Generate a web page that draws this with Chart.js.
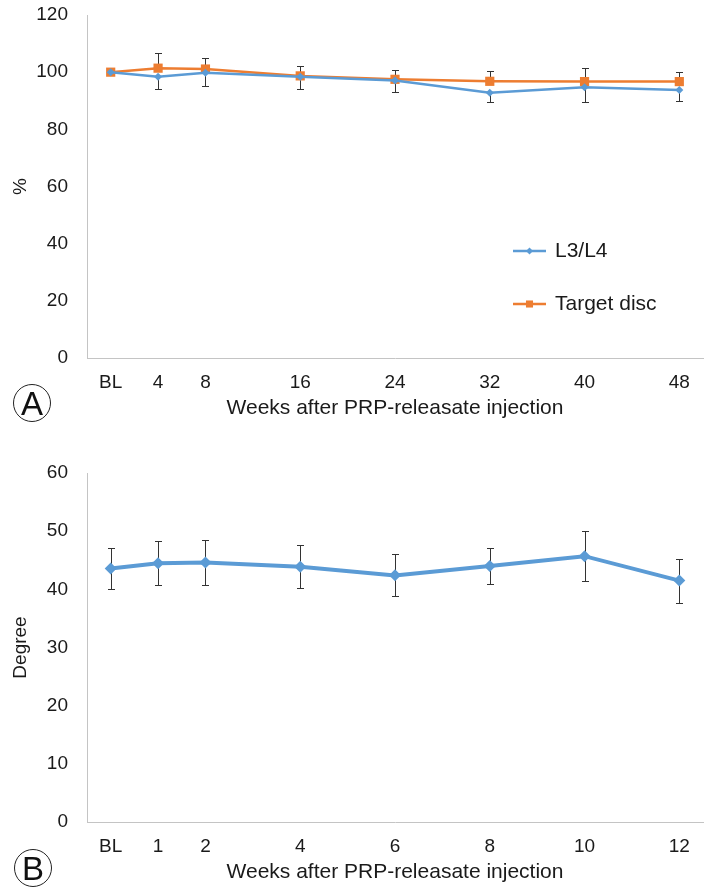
<!DOCTYPE html>
<html>
<head>
<meta charset="utf-8">
<script src="https://cdn.jsdelivr.net/npm/chart.js@4.4.1/dist/chart.umd.min.js"></script>
<style>
body { margin: 0; background: #fff; }
#wrap { position: relative; width: 712px; height: 895px; font-family: "Liberation Sans", Arial, sans-serif; }
canvas { position: absolute; left: 0; }
#chartA { top: 0; }
#chartB { top: 440px; }
.tag { position: absolute; width: 36px; height: 36px; border: 1px solid #222; border-radius: 50%;
       font-size: 33px; line-height: 37px; text-align: center; color: #111; }
</style>
</head>
<body>
<div id="wrap">
  <canvas id="chartA" width="712" height="440"></canvas>
  <canvas id="chartB" width="712" height="455"></canvas>
  <div class="tag" style="left:13px; top:384px;">A</div>
  <div class="tag" style="left:14px; top:849px;">B</div>
</div>
<script>
// panel A: disc height, % of baseline
const weeksA = [0, 4, 8, 16, 24, 32, 40, 48];
const l3l4 = [100, 98.4, 99.8, 98.4, 97.1, 92.8, 94.7, 93.8];
const l3l4Minus = [0, 4.4, 4.6, 4.2, 3.9, 3.2, 5.2, 4.0];
const targetDisc = [100, 101.4, 101.1, 98.7, 97.5, 96.8, 96.7, 96.7];
const targetPlus = [0, 5.2, 4.0, 3.5, 3.4, 3.7, 4.8, 3.5];

// panel B: angle in degrees
const weeksB = [0, 1, 2, 4, 6, 8, 10, 12];
const degree = [43.6, 44.5, 44.6, 43.9, 42.4, 44.0, 45.7, 41.5];
const degreeErr = [3.5, 3.8, 3.8, 3.75, 3.6, 3.1, 4.3, 3.8];

const xTitle = "Weeks after PRP-releasate injection";

Chart.defaults.font.family = '"Liberation Sans", Arial, sans-serif';
Chart.defaults.color = "#1a1a1a";

function toPoints(xs, ys) {
    return xs.map((x, i) => ({ x: x, y: ys[i] }));
}

const errorBars = {
    id: "errorBars",
    beforeDatasetsDraw(chart) {
        const ctx = chart.ctx;
        const yScale = chart.scales.y;
        ctx.save();
        ctx.strokeStyle = "#333333";
        ctx.lineWidth = 1;
        chart.data.datasets.forEach((ds, di) => {
            const meta = chart.getDatasetMeta(di);
            meta.data.forEach((pt, i) => {
                const up = ds.errPlus ? ds.errPlus[i] : 0;
                const down = ds.errMinus ? ds.errMinus[i] : 0;
                if (!up && !down) return;
                const v = ds.data[i].y;
                const x = Math.round(pt.x) + 0.5;
                const top = Math.round(yScale.getPixelForValue(v + up)) + 0.5;
                const bot = Math.round(yScale.getPixelForValue(v - down)) + 0.5;
                ctx.beginPath();
                ctx.moveTo(x, top);
                ctx.lineTo(x, bot);
                if (up) { ctx.moveTo(x - 3.5, top); ctx.lineTo(x + 3.5, top); }
                if (down) { ctx.moveTo(x - 3.5, bot); ctx.lineTo(x + 3.5, bot); }
                ctx.stroke();
            });
        });
        ctx.restore();
    }
};

function marker(ctx, style, x, y, r) {
    ctx.beginPath();
    if (style === "rect") {
        const s = Math.SQRT1_2 * r;
        ctx.rect(x - s, y - s, 2 * s, 2 * s);
    } else {
        ctx.moveTo(x, y - r);
        ctx.lineTo(x + r, y);
        ctx.lineTo(x, y + r);
        ctx.lineTo(x - r, y);
        ctx.closePath();
    }
    ctx.fill();
}

const sideLegend = {
    id: "sideLegend",
    afterDraw(chart, args, opts) {
        if (!opts.display) return;
        const ctx = chart.ctx;
        ctx.save();
        chart.data.datasets.forEach((ds, i) => {
            const y = opts.y + i * opts.gap;
            ctx.strokeStyle = ds.borderColor;
            ctx.lineWidth = ds.borderWidth;
            ctx.beginPath();
            ctx.moveTo(opts.x, y);
            ctx.lineTo(opts.x + opts.len, y);
            ctx.stroke();
            ctx.fillStyle = ds.borderColor;
            marker(ctx, ds.pointStyle, opts.x + opts.len / 2, y, opts.radius[i]);
            ctx.fillStyle = "#1a1a1a";
            ctx.font = opts.size + 'px "Liberation Sans", Arial, sans-serif';
            ctx.textBaseline = "middle";
            ctx.textAlign = "left";
            ctx.fillText(ds.label, opts.x + opts.len + 9, y);
        });
        ctx.restore();
    }
};

function axisOpts(cfg) {
    return {
        x: {
            type: "linear",
            min: cfg.xMin,
            max: cfg.xMax,
            grid: { display: false, drawTicks: false },
            border: { color: "#c4c4c4", width: 1 },
            afterBuildTicks: s => { s.ticks = cfg.weeks.map(v => ({ value: v })); },
            afterFit: s => { s.height = cfg.xHeight; },
            ticks: {
                padding: 13, font: { size: 19 }, maxRotation: 0, autoSkip: false,
                callback: v => v === 0 ? "BL" : v
            },
            title: { display: true, text: xTitle, font: { size: 21 }, padding: { top: 0, bottom: cfg.titlePad } }
        },
        y: {
            min: 0,
            max: cfg.yMax,
            grid: { display: false, drawTicks: false },
            border: { color: "#c4c4c4", width: 1 },
            afterFit: s => { s.width = 87; s.paddingTop = 0; s.paddingBottom = 0; },
            ticks: { stepSize: cfg.yStep, padding: 19, font: { size: 19 } },
            title: { display: true, text: cfg.yTitle, font: { size: 19 }, padding: { top: 9, bottom: 0 } }
        }
    };
}

const chartA = new Chart(document.getElementById("chartA"), {
    type: "line",
    data: {
        datasets: [{
            label: "L3/L4",
            data: toPoints(weeksA, l3l4),
            errMinus: l3l4Minus,
            borderColor: "#5b9bd5",
            backgroundColor: "#5b9bd5",
            borderWidth: 2.5,
            pointStyle: "rectRot",
            pointRadius: 4,
            pointBorderWidth: 0
        }, {
            label: "Target disc",
            data: toPoints(weeksA, targetDisc),
            errPlus: targetPlus,
            borderColor: "#ed7d31",
            backgroundColor: "#ed7d31",
            borderWidth: 2.5,
            pointStyle: "rect",
            pointRadius: 6.5,
            pointBorderWidth: 0
        }]
    },
    options: {
        responsive: false,
        animation: false,
        devicePixelRatio: 1,
        layout: { padding: { top: 15, right: 9, left: 0, bottom: 0 } },
        plugins: {
            legend: { display: false },
            tooltip: { enabled: false },
            sideLegend: { display: true, x: 513, y: 251, gap: 53, len: 33, radius: [3.5, 5], size: 21 }
        },
        scales: axisOpts({ weeks: weeksA, xMin: -2, xMax: 50, xHeight: 82, titlePad: 19, yMax: 120, yStep: 20, yTitle: "%" })
    },
    plugins: [errorBars, sideLegend]
});

const chartB = new Chart(document.getElementById("chartB"), {
    type: "line",
    data: {
        datasets: [{
            label: "Degree",
            data: toPoints(weeksB, degree),
            errPlus: degreeErr,
            errMinus: degreeErr,
            borderColor: "#5b9bd5",
            backgroundColor: "#5b9bd5",
            borderWidth: 4,
            pointStyle: "rectRot",
            pointRadius: 6,
            pointBorderWidth: 0
        }]
    },
    options: {
        responsive: false,
        animation: false,
        devicePixelRatio: 1,
        layout: { padding: { top: 33, right: 9, left: 0, bottom: 0 } },
        plugins: {
            legend: { display: false },
            tooltip: { enabled: false },
            sideLegend: { display: false }
        },
        scales: axisOpts({ weeks: weeksB, xMin: -0.5, xMax: 12.5, xHeight: 73, titlePad: 10, yMax: 60, yStep: 10, yTitle: "Degree" })
    },
    plugins: [errorBars, sideLegend]
});
</script>
</body>
</html>
